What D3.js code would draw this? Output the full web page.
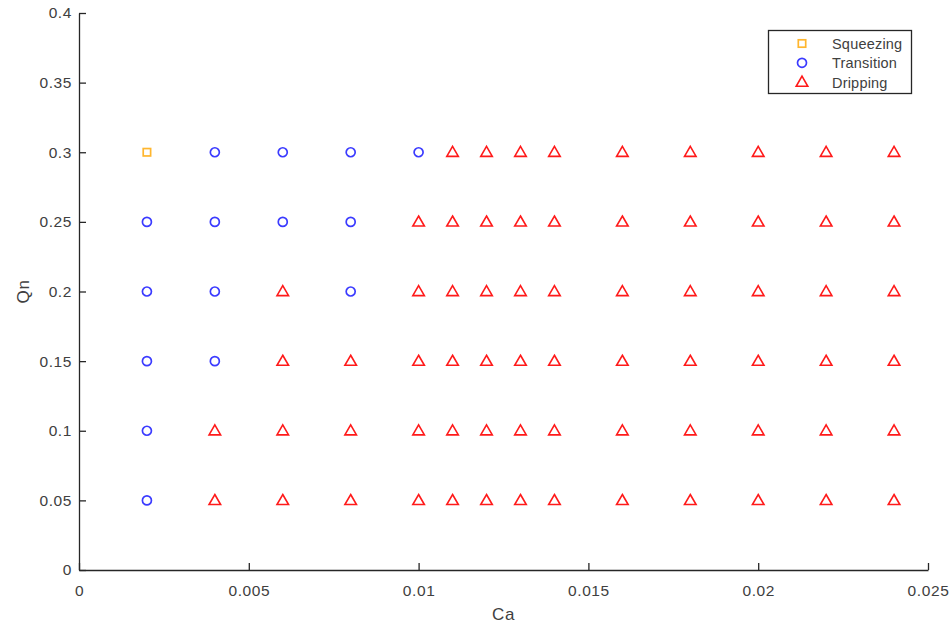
<!DOCTYPE html>
<html>
<head>
<meta charset="utf-8">
<script src="https://cdn.jsdelivr.net/npm/d3@7"></script>
<style>
  html, body { margin: 0; padding: 0; background: #fff; }
  svg { display: block; }
  text { font-family: "Liberation Sans", Arial, Helvetica, sans-serif; }
</style>
</head>
<body>
<svg id="chart" width="952" height="628"></svg>
<script>
// Flow regime map: capillary number vs. normalised flow rate
const xTicks = [0, 0.005, 0.01, 0.015, 0.02, 0.025];
const yTicks = [0, 0.05, 0.1, 0.15, 0.2, 0.25, 0.3, 0.35, 0.4];
const xTickLabels = ["0", "0.005", "0.01", "0.015", "0.02", "0.025"];
const yTickLabels = ["0", "0.05", "0.1", "0.15", "0.2", "0.25", "0.3", "0.35", "0.4"];

const squeezing = [
  [0.002, 0.3]
];
const transition = [
  [0.004, 0.3], [0.006, 0.3], [0.008, 0.3], [0.010, 0.3],
  [0.002, 0.25], [0.004, 0.25], [0.006, 0.25], [0.008, 0.25],
  [0.002, 0.2], [0.004, 0.2], [0.008, 0.2],
  [0.002, 0.15], [0.004, 0.15],
  [0.002, 0.1],
  [0.002, 0.05]
];
const dripping = [
  [0.011, 0.3], [0.012, 0.3], [0.013, 0.3], [0.014, 0.3], [0.016, 0.3], [0.018, 0.3], [0.020, 0.3], [0.022, 0.3], [0.024, 0.3],
  [0.010, 0.25], [0.011, 0.25], [0.012, 0.25], [0.013, 0.25], [0.014, 0.25], [0.016, 0.25], [0.018, 0.25], [0.020, 0.25], [0.022, 0.25], [0.024, 0.25],
  [0.006, 0.2], [0.010, 0.2], [0.011, 0.2], [0.012, 0.2], [0.013, 0.2], [0.014, 0.2], [0.016, 0.2], [0.018, 0.2], [0.020, 0.2], [0.022, 0.2], [0.024, 0.2],
  [0.006, 0.15], [0.008, 0.15], [0.010, 0.15], [0.011, 0.15], [0.012, 0.15], [0.013, 0.15], [0.014, 0.15], [0.016, 0.15], [0.018, 0.15], [0.020, 0.15], [0.022, 0.15], [0.024, 0.15],
  [0.004, 0.1], [0.006, 0.1], [0.008, 0.1], [0.010, 0.1], [0.011, 0.1], [0.012, 0.1], [0.013, 0.1], [0.014, 0.1], [0.016, 0.1], [0.018, 0.1], [0.020, 0.1], [0.022, 0.1], [0.024, 0.1],
  [0.004, 0.05], [0.006, 0.05], [0.008, 0.05], [0.010, 0.05], [0.011, 0.05], [0.012, 0.05], [0.013, 0.05], [0.014, 0.05], [0.016, 0.05], [0.018, 0.05], [0.020, 0.05], [0.022, 0.05], [0.024, 0.05]
];

const seriesNames = ["Squeezing", "Transition", "Dripping"];
const seriesColors = ["#ffb62e", "#3b3bff", "#ff1a1a"];

const svg = d3.select("#chart");
const plotLeft = 79, plotRight = 928, plotTop = 13, plotBottom = 570;

const x = d3.scaleLinear().domain([0, 0.025]).range([plotLeft, plotRight]);
const y = d3.scaleLinear().domain([0, 0.4]).range([plotBottom, plotTop]);

const axisColor = "#262626";
const textColor = "#404040";

// Axes with inward ticks
const xAxis = d3.axisBottom(x).tickValues(xTicks)
  .tickFormat((d, i) => xTickLabels[i]).tickSizeInner(-7).tickSizeOuter(0).tickPadding(15);
const yAxis = d3.axisLeft(y).tickValues(yTicks)
  .tickFormat((d, i) => yTickLabels[i]).tickSizeInner(-7).tickSizeOuter(0).tickPadding(7);

const gx = svg.append("g").attr("transform", `translate(0,${plotBottom})`).call(xAxis);
const gy = svg.append("g").attr("transform", `translate(${plotLeft},0)`).call(yAxis);

[gx, gy].forEach(g => {
  g.select(".domain").attr("stroke", axisColor).attr("stroke-width", 1.3);
  g.selectAll(".tick line").attr("stroke", axisColor).attr("stroke-width", 1.3);
  g.selectAll(".tick text").attr("fill", textColor).attr("font-size", 15.5)
    .attr("letter-spacing", 0.6)
    .attr("font-family", '"Liberation Sans", Arial, sans-serif');
});

// Axis titles
svg.append("text").attr("x", (plotLeft + plotRight) / 2).attr("y", 620)
  .attr("text-anchor", "middle").attr("fill", textColor).attr("font-size", 17)
  .attr("letter-spacing", 0.6).text("Ca");
svg.append("text")
  .attr("transform", `translate(29,${(plotTop + plotBottom) / 2}) rotate(-90)`)
  .attr("text-anchor", "middle").attr("fill", textColor).attr("font-size", 17)
  .attr("letter-spacing", 0.6).text("Qn");

// Marker shapes
const tri = d3.symbol().type(d3.symbolTriangle).size(58)();
function drawMarker(g, kind, color) {
  if (kind === 0) {
    g.append("rect").attr("x", -3.7).attr("y", -3.7).attr("width", 7.4).attr("height", 7.4)
      .attr("fill", "none").attr("stroke", color).attr("stroke-width", 1.7);
  } else if (kind === 1) {
    g.append("circle").attr("r", 4.5)
      .attr("fill", "none").attr("stroke", color).attr("stroke-width", 1.7);
  } else {
    g.append("path").attr("d", tri).attr("transform", "translate(0,0.8)")
      .attr("fill", "none").attr("stroke", color).attr("stroke-width", 1.6);
  }
}

const allSeries = [squeezing, transition, dripping];
allSeries.forEach((data, k) => {
  svg.append("g").selectAll("g").data(data).join("g")
    .attr("transform", d => `translate(${x(d[0])},${y(d[1])})`)
    .each(function () { drawMarker(d3.select(this), k, seriesColors[k]); });
});

// Legend
const lg = svg.append("g");
lg.append("rect").attr("x", 768.5).attr("y", 30.5).attr("width", 143).attr("height", 63)
  .attr("fill", "#fff").attr("stroke", axisColor).attr("stroke-width", 1.3);
seriesNames.forEach((name, k) => {
  const row = lg.append("g").attr("transform", `translate(802,${43.5 + k * 19.3})`);
  drawMarker(row, k, seriesColors[k]);
  row.append("text").attr("x", 30).attr("y", 5.5).attr("fill", textColor)
    .attr("font-size", 14.5).attr("letter-spacing", 0.2).text(name);
});
</script>
</body>
</html>
